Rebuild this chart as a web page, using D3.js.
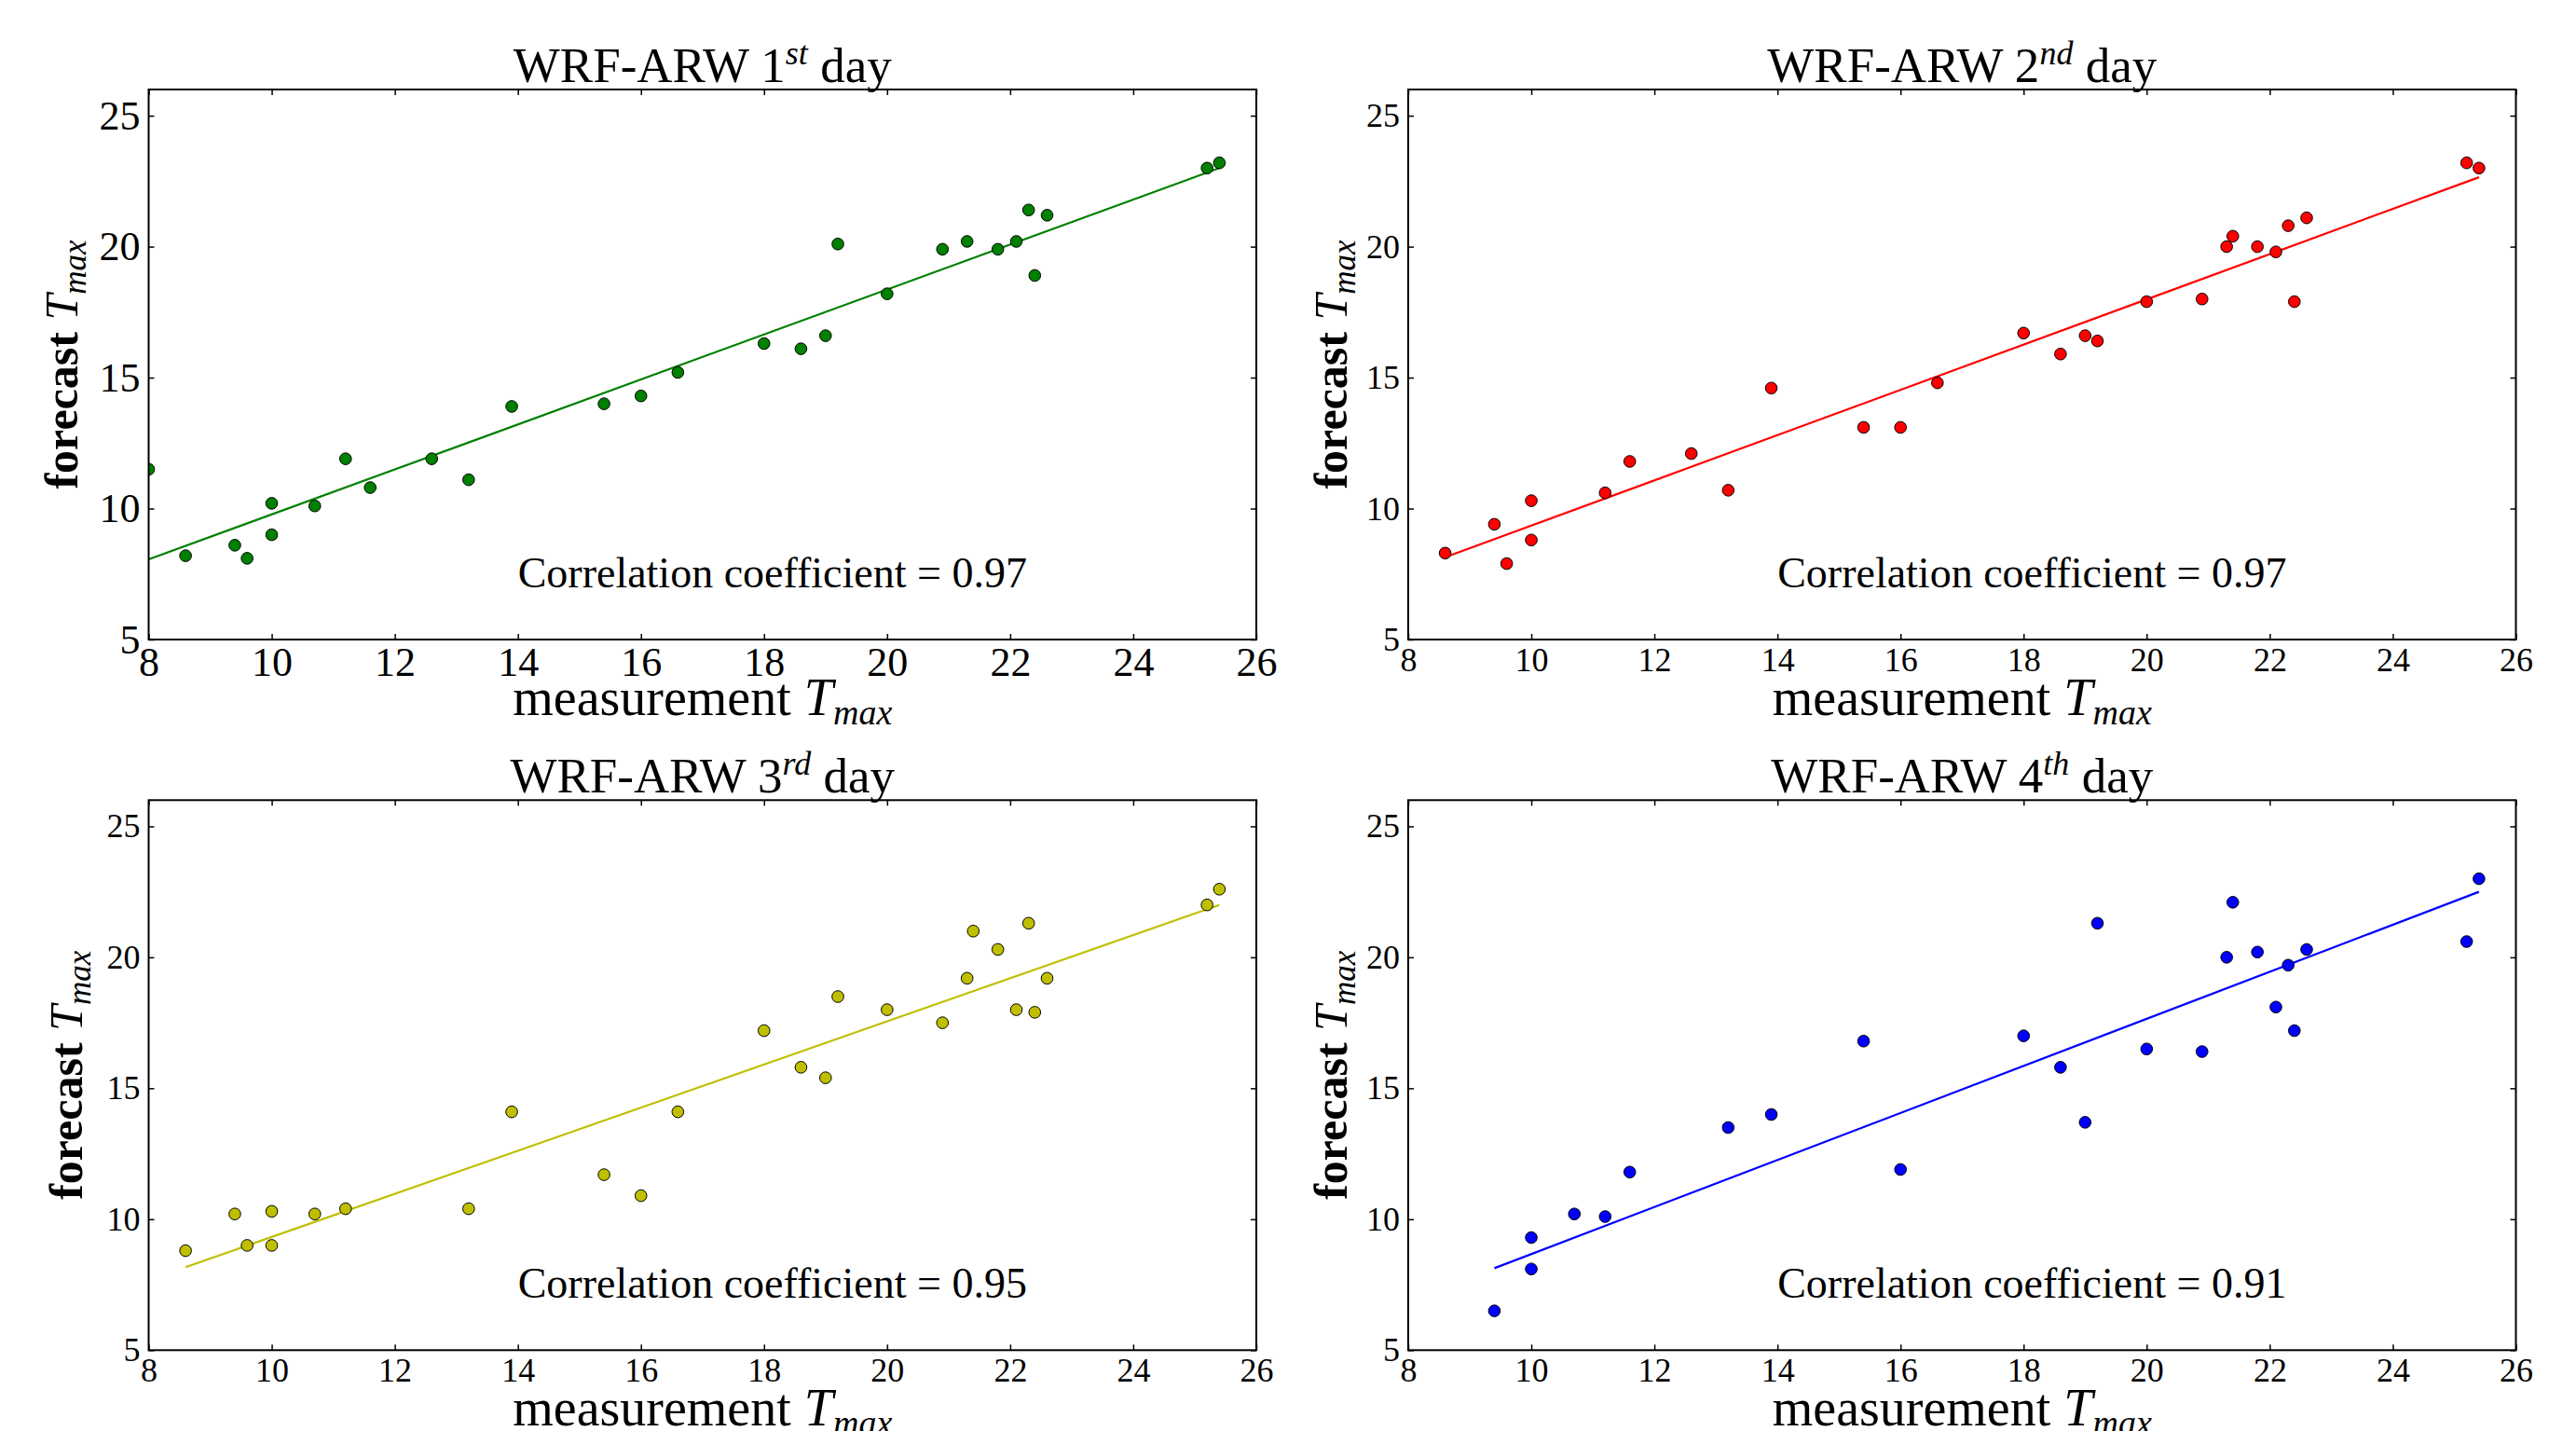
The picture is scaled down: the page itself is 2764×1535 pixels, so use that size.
<!DOCTYPE html>
<html>
<head>
<meta charset="utf-8">
<script src="https://cdn.jsdelivr.net/npm/d3@7/dist/d3.min.js"></script>
<style>
body { margin: 0; background: #fff; }
text { font-family: "Liberation Serif", "DejaVu Serif", serif; fill: #000; }
</style>
</head>
<body>
<svg id="chart" width="2764" height="1535"></svg>
<script>
var xTicks = [8, 10, 12, 14, 16, 18, 20, 22, 24, 26];
var yTicks = [5, 10, 15, 20, 25];

var day1X = [8.0, 8.6, 9.4, 9.6, 10.0, 10.0, 10.7, 11.2, 11.6, 12.6, 13.2, 13.9, 15.4, 16.0, 16.6,
             18.0, 18.6, 19.0, 19.2, 20.0, 20.9, 21.3, 21.8, 22.1, 22.3, 22.4, 22.6, 25.2, 25.4];
var day1Y = [11.5, 8.2, 8.6, 8.1, 10.2, 9.0, 10.1, 11.9, 10.8, 11.9, 11.1, 13.9, 14.0, 14.3, 15.2,
             16.3, 16.1, 16.6, 20.1, 18.2, 19.9, 20.2, 19.9, 20.2, 21.4, 18.9, 21.2, 23.0, 23.2];

var day2X = [8.6, 9.4, 9.6, 10.0, 10.0, 11.2, 11.6, 12.6, 13.2, 13.9, 15.4, 16.0, 16.6, 18.0,
             18.6, 19.0, 19.2, 20.0, 20.9, 21.3, 21.4, 21.8, 22.1, 22.3, 22.4, 22.6, 25.2, 25.4];
var day2Y = [8.3, 9.4, 7.9, 10.3, 8.8, 10.6, 11.8, 12.1, 10.7, 14.6, 13.1, 13.1, 14.8, 16.7,
             15.9, 16.6, 16.4, 17.9, 18.0, 20.0, 20.4, 20.0, 19.8, 20.8, 17.9, 21.1, 23.2, 23.0];

var day3X = [8.6, 9.4, 9.6, 10.0, 10.0, 10.7, 11.2, 13.2, 13.9, 15.4, 16.0, 16.6, 18.0, 18.6,
             19.0, 19.2, 20.0, 20.9, 21.3, 21.4, 21.8, 22.1, 22.3, 22.4, 22.6, 25.2, 25.4];
var day3Y = [8.8, 10.2, 9.0, 10.3, 9.0, 10.2, 10.4, 10.4, 14.1, 11.7, 10.9, 14.1, 17.2, 15.8,
             15.4, 18.5, 18.0, 17.5, 19.2, 21.0, 20.3, 18.0, 21.3, 17.9, 19.2, 22.0, 22.6];

var day4X = [9.4, 10.0, 10.0, 10.7, 11.2, 11.6, 13.2, 13.9, 15.4, 16.0, 18.0, 18.6, 19.0, 19.2,
             20.0, 20.9, 21.3, 21.4, 21.8, 22.1, 22.3, 22.4, 22.6, 25.2, 25.4];
var day4Y = [6.5, 9.3, 8.1, 10.2, 10.1, 11.8, 13.5, 14.0, 16.8, 11.9, 17.0, 15.8, 13.7, 21.3,
             16.5, 16.4, 20.0, 22.1, 20.2, 18.1, 19.7, 17.2, 20.3, 20.6, 23.0];

// fitted line: forecast value at the smallest and largest measurement
var fitY = [[8.06, 23.0], [8.14, 22.65], [8.17, 22.0], [8.13, 22.5]];

var ordinals = ["1", "2", "3", "4"];
var suffixes = ["st", "nd", "rd", "th"];
var correlations = ["0.97", "0.97", "0.95", "0.91"];

var colors = ["#008000", "#ff0000", "#bfbf00", "#0000ff"];
var dataX = [day1X, day2X, day3X, day4X];
var dataY = [day1Y, day2Y, day3Y, day4Y];

var svg = d3.select("#chart");

var w = 1188.5, h = 590;

function drawPanel(i) {
    var offX = i % 2 == 0 ? 159.5 : 1511;
    var offY = i < 2 ? 96 : 858.3;
    var tickFont = i == 0 ? 44 : 36;
    var ylabOffset = [77, 66, 72, 66][i];

    var x = d3.scaleLinear().domain([8, 26]).range([0, w]);
    var y = d3.scaleLinear().domain([5, 26]).range([h, 0]);

    var g = svg.append("g")
        .attr("transform", "translate(" + offX + "," + offY + ")");

    g.append("clipPath").attr("id", "clip" + i)
        .append("rect").attr("width", w).attr("height", h);

    var pts = dataX[i].map(function(v, k) { return [v, dataY[i][k]]; });
    var ext = d3.extent(dataX[i]);

    // regression line
    g.append("line")
        .attr("clip-path", "url(#clip" + i + ")")
        .attr("x1", x(ext[0])).attr("y1", y(fitY[i][0]))
        .attr("x2", x(ext[1])).attr("y2", y(fitY[i][1]))
        .style("stroke", colors[i])
        .style("stroke-width", 2.2);

    g.append("g").attr("clip-path", "url(#clip" + i + ")")
        .selectAll("circle")
        .data(pts)
        .enter()
        .append("circle")
        .attr("cx", function(d) { return x(d[0]); })
        .attr("cy", function(d) { return y(d[1]); })
        .attr("r", 6.3)
        .style("fill", colors[i])
        .style("stroke", "#000")
        .style("stroke-width", 1);

    // axes, ticks pointing inwards on all four sides
    g.append("g")
        .attr("transform", "translate(0," + h + ")")
        .call(d3.axisBottom(x).tickValues(xTicks).tickSize(-6).tickPadding(8));
    g.append("g")
        .call(d3.axisLeft(y).tickValues(yTicks).tickSize(-6).tickPadding(9));
    g.append("g")
        .call(d3.axisTop(x).tickValues(xTicks).tickSize(-6).tickFormat(""));
    g.append("g")
        .attr("transform", "translate(" + w + ",0)")
        .call(d3.axisRight(y).tickValues(yTicks).tickSize(-6).tickFormat(""));

    g.selectAll(".domain").remove();
    g.selectAll(".tick line").style("stroke", "#000").style("stroke-width", 1.5);
    g.selectAll(".tick text")
        .style("font-family", "'Liberation Serif', serif")
        .style("font-size", tickFont + "px")
        .style("fill", "#000");

    g.append("rect")
        .attr("width", w).attr("height", h)
        .style("fill", "none")
        .style("stroke", "#000")
        .style("stroke-width", 2);

    // title
    var title = g.append("text")
        .attr("x", w / 2).attr("y", -8)
        .attr("text-anchor", "middle")
        .style("font-size", "53px");
    title.append("tspan").text("WRF-ARW " + ordinals[i]);
    title.append("tspan").attr("dy", -19).style("font-size", "36px")
        .style("font-style", "italic").text(suffixes[i]);
    title.append("tspan").attr("dy", 19).text(" day");

    // correlation text
    g.append("text")
        .attr("x", x(14)).attr("y", y(7))
        .style("font-size", "46px")
        .text("Correlation coefficient = " + correlations[i]);

    // x label
    var xl = g.append("text")
        .attr("x", w / 2).attr("y", h + 81)
        .attr("text-anchor", "middle")
        .style("font-size", "56px");
    xl.append("tspan").text("measurement ");
    xl.append("tspan").style("font-style", "italic").text("T");
    xl.append("tspan").attr("dy", 10).style("font-style", "italic")
        .style("font-size", "38px").text("max");

    // y label
    var yl = g.append("text")
        .attr("transform", "translate(" + (-ylabOffset) + "," + (h / 2) + ")rotate(-90)")
        .attr("text-anchor", "middle")
        .style("font-size", "50px");
    yl.append("tspan").style("font-weight", "bold").text("forecast ");
    yl.append("tspan").style("font-style", "italic").text("T");
    yl.append("tspan").attr("dy", 9).style("font-style", "italic")
        .style("font-size", "35px").text("max");
}

for (var i = 0; i < 4; i++) {
    drawPanel(i);
}
</script>
</body>
</html>
